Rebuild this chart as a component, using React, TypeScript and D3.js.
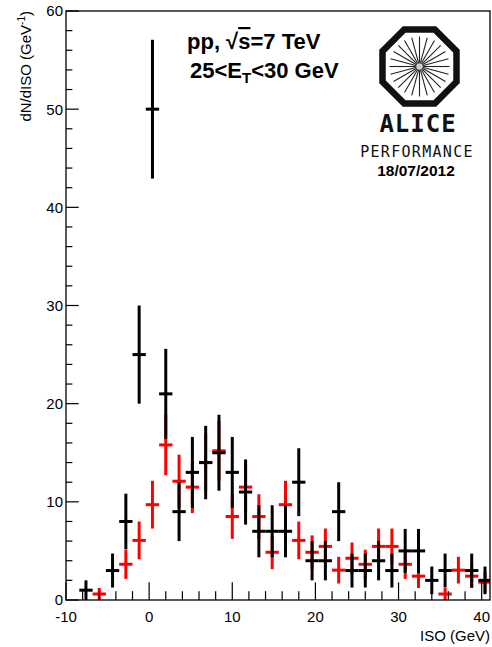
import React from "react";
import * as d3 from "d3";

// Bin centres (GeV), bin width 1.6 GeV
const binCenters = [-7.6, -6.0, -4.4, -2.8, -1.2, 0.4, 2.0, 3.6, 5.2, 6.8, 8.4, 10.0, 11.6, 13.2, 14.8, 16.4, 18.0, 19.6, 21.2, 22.8, 24.4, 26.0, 27.6, 29.2, 30.8, 32.4, 34.0, 35.6, 37.2, 38.8, 40.4];
const binWidth = 1.6;

const blackValues = [1, 0, 3, 8, 25, 50, 21, 9, 13, 14, 15, 13, 11, 7, 7, 7, 12, 4, 4, 9, 3, 3, 4, 3, 5, 5, 2, 3, 0, 3, 2];
const blackErrors = [1, 0, 1.73, 2.83, 5, 7.07, 4.58, 3, 3.61, 3.74, 3.87, 3.61, 3.32, 2.65, 2.65, 2.65, 3.46, 2, 2, 3, 1.73, 1.73, 2, 1.73, 2.24, 2.24, 1.41, 1.73, 0, 1.73, 1.41];

const redValues = [0, 0.61, 0, 3.64, 6.07, 9.71, 15.8, 12.1, 11.5, 14.0, 15.2, 8.5, 11.5, 8.5, 4.86, 9.71, 6.07, 4.86, 5.46, 3.04, 4.25, 3.64, 5.46, 5.46, 3.64, 2.43, 0, 0.61, 3.04, 2.43, 1.82];
const redErrors = [0, 0.61, 0, 1.49, 1.92, 2.43, 3.1, 2.7, 2.65, 2.9, 3.04, 2.27, 2.65, 2.27, 1.72, 2.43, 1.92, 1.72, 1.82, 1.36, 1.61, 1.49, 1.82, 1.82, 1.49, 1.21, 0, 0.61, 1.36, 1.21, 1.05];

const xMajorTicks = [-10, 0, 10, 20, 30, 40];
const yMajorTicks = [0, 10, 20, 30, 40, 50, 60];

const FONT = "'Liberation Sans', Arial, Helvetica, sans-serif";
const MONO = "'DejaVu Sans Mono', monospace";

export default function App() {
  const W = 492, H = 647;
  const L = 66, R = 490, T = 11, B = 600;
  const x = d3.scaleLinear().domain([-10, 41]).range([L, R]);
  const y = d3.scaleLinear().domain([0, 60]).range([B, T]);

  const xMinor = d3.range(-10, 41.001, 2);
  const yMinor = d3.range(0, 60.001, 2);
  const xTickLen = 0.03 * (B - T);
  const yTickLen = 0.03 * (R - L);

  const series = [
    { vals: redValues, errs: redErrors, color: "#ff0000" },
    { vals: blackValues, errs: blackErrors, color: "#000000" },
  ];

  // ALICE logo
  const cx = 419.5, cy = 66.5;
  const octR = 37 / Math.cos(Math.PI / 8);
  const octPts = d3.range(8).map((k) => {
    const a = Math.PI / 8 + (k * Math.PI) / 4;
    return [cx + octR * Math.cos(a), cy + octR * Math.sin(a)];
  });
  const octPath = "M" + octPts.map((p) => p.join(",")).join("L") + "Z";
  const spokes = d3.range(24).map((k) => (k * Math.PI * 2) / 24);

  return (
    <svg width={W} height={H} style={{ position: "absolute", left: 0, top: 0, background: "#fff" }}>
      <defs>
        <clipPath id="plotclip">
          <rect x={L} y={T} width={R - L} height={B - T} />
        </clipPath>
        <radialGradient id="hub">
          <stop offset="0%" stopColor="#bbb" />
          <stop offset="100%" stopColor="#bbb" stopOpacity={0} />
        </radialGradient>
      </defs>
      <rect x={0} y={0} width={W} height={H} fill="#fff" />

      {/* data */}
      <g clipPath="url(#plotclip)">
        {series.map((s, si) => (
          <g key={si} stroke={s.color} strokeWidth={3} fill="none">
            {binCenters.map((c, i) =>
              s.vals[i] > 0 ? (
                <g key={i}>
                  <line x1={x(c)} x2={x(c)} y1={y(s.vals[i] - s.errs[i])} y2={y(s.vals[i] + s.errs[i])} />
                  <line x1={x(c - binWidth / 2)} x2={x(c + binWidth / 2)} y1={y(s.vals[i])} y2={y(s.vals[i])} />
                </g>
              ) : null
            )}
          </g>
        ))}
      </g>

      {/* frame */}
      <rect x={L} y={T} width={R - L} height={B - T} fill="none" stroke="#000" strokeWidth={1.3} />

      {/* ticks */}
      <g stroke="#000" strokeWidth={1.2}>
        {xMinor.map((v) => (
          <line key={"xm" + v} x1={x(v)} x2={x(v)} y1={B} y2={B - (xMajorTicks.includes(v) ? xTickLen : xTickLen / 2)} />
        ))}
        {yMinor.map((v) => (
          <line key={"ym" + v} x1={L} x2={L + (yMajorTicks.includes(v) ? yTickLen : yTickLen / 2)} y1={y(v)} y2={y(v)} />
        ))}
      </g>

      <g fontFamily={FONT} fontSize={15} fill="#000">
        {xMajorTicks.map((v) => (
          <text key={"xl" + v} x={x(v)} y={622} textAnchor="middle">{v}</text>
        ))}
        {yMajorTicks.map((v) => (
          <text key={"yl" + v} x={63} y={y(v)} dy="0.36em" textAnchor="end">{v}</text>
        ))}
        <text x={490} y={641} textAnchor="end">ISO (GeV)</text>
        <text transform={`translate(31, 11) rotate(-90)`} textAnchor="end">
          dN/dISO (GeV<tspan fontSize={10} dy={-6}>-1</tspan><tspan dy={6}>)</tspan>
        </text>
      </g>

      {/* labels */}
      <g fontFamily={FONT} fontWeight="bold" fontSize={22} fill="#000">
        <text x={187} y={49}>
          pp, √<tspan style={{ textDecoration: "overline" }}>s</tspan>=7 TeV
        </text>
        <text x={190} y={78}>
          25&lt;E<tspan fontSize={15} dy={5}>T</tspan><tspan dy={-5}>&lt;30 GeV</tspan>
        </text>
      </g>

      {/* ALICE logo */}
      <path d={octPath} fill="none" stroke="#111" strokeWidth={6.5} strokeLinejoin="miter" />
      <g stroke="#222" strokeWidth={1.1}>
        {spokes.map((a, k) => (
          <line key={k} x1={cx + 3 * Math.cos(a)} y1={cy + 3 * Math.sin(a)} x2={cx + 30 * Math.cos(a)} y2={cy + 30 * Math.sin(a)} />
        ))}
      </g>
      <circle cx={cx} cy={cy} r={5} fill="url(#hub)" />
      <text x={418} y={132} textAnchor="middle" fontFamily={MONO} fontWeight="bold" fontSize={24} letterSpacing={1} fill="#111">ALICE</text>
      <text x={417} y={157} textAnchor="middle" fontFamily={MONO} fontSize={15} letterSpacing={1.3} fill="#111">PERFORMANCE</text>
      <text x={416} y={176} textAnchor="middle" fontFamily={FONT} fontWeight="bold" fontSize={15.5} fill="#000">18/07/2012</text>
    </svg>
  );
}
